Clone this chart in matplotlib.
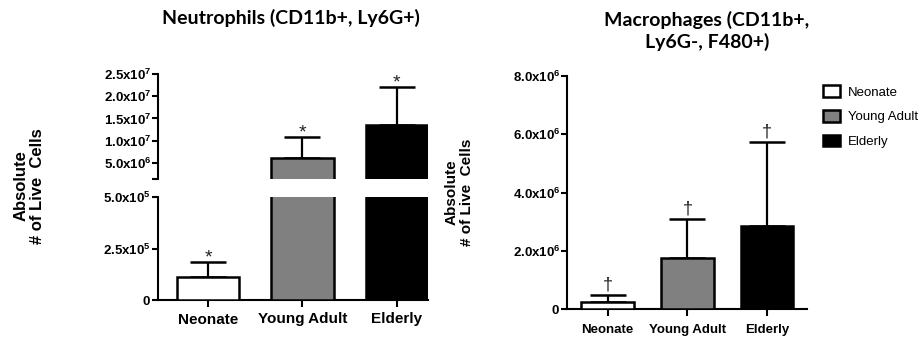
import matplotlib
matplotlib.use("Agg")
import matplotlib.pyplot as plt
import matplotlib.patches as mpatches

# ── Data ──────────────────────────────────────────────────────────────────────
groups = ['Neonate', 'Young Adult', 'Elderly']
bar_colors = ['white', '#808080', 'black']

neut_mean = [1.12e5, 6.1e6, 1.35e7]
neut_err = [7.2e4, 4.7e6, 8.6e6]

mac_mean = [2.4e5, 1.75e6, 2.85e6]
mac_err = [2.4e5, 1.34e6, 2.88e6]

neut_low_ticks = [0, 2.5e5, 5.0e5]
neut_low_labels = ['0', '2.5x10^{5}', '5.0x10^{5}']
neut_up_ticks = [5.0e6, 1.0e7, 1.5e7, 2.0e7, 2.5e7]
neut_up_labels = ['5.0x10^{6}', '1.0x10^{7}', '1.5x10^{7}',
                  '2.0x10^{7}', '2.5x10^{7}']
mac_ticks = [0, 2e6, 4e6, 6e6, 8e6]
mac_labels = ['0', '2.0x10^{6}', '4.0x10^{6}', '6.0x10^{6}', '8.0x10^{6}']

plt.rcParams.update({
    'font.family': ['Liberation Sans', 'DejaVu Sans'],
    'mathtext.fontset': 'custom',
    'mathtext.rm': 'Liberation Sans:bold',
    'mathtext.bf': 'Liberation Sans:bold',
    'mathtext.it': 'Liberation Sans:bold',
    'axes.linewidth': 1.5,
})

W, H = 923, 341
fig = plt.figure(figsize=(W / 100, H / 100), dpi=100)
fig.patch.set_facecolor('white')


def px_axes(l, t, r, b):
    return fig.add_axes([l / W, 1 - b / H, (r - l) / W, (b - t) / H])


def sci(labels):
    return ['$\\mathbf{%s}$' % s for s in labels]


def draw_bars(ax, means, errs, mark, off, size):
    x = list(range(len(means)))
    ax.bar(x, means, width=0.66, color=bar_colors, edgecolor='black',
           linewidth=1.8, zorder=3)
    ax.errorbar(x, means, yerr=[[0] * len(errs), errs], fmt='none',
                ecolor='black', elinewidth=1.6, capsize=13, capthick=1.8,
                zorder=2)
    for xi, m, e in zip(x, means, errs):
        ax.annotate(mark, xy=(xi, m + e), xytext=(0, off),
                    textcoords='offset points', ha='center', va='bottom',
                    fontsize=size, color='#222222')


def style(ax):
    for s in ['top', 'right']:
        ax.spines[s].set_visible(False)
    ax.tick_params(axis='y', length=4, width=1.5, labelsize=9.5, pad=1)
    ax.tick_params(axis='x', length=5, width=1.5)


# ── Left panel: neutrophils, broken y axis ───────────────────────────────────
ax_up = px_axes(158, 74, 428, 179)
ax_lo = px_axes(158, 197, 428, 300)

for ax in (ax_up, ax_lo):
    draw_bars(ax, neut_mean, neut_err, '*', -3, 14)
    ax.set_xlim(-0.53, 2.33)

ax_up.set_ylim(1.4e6, 2.5e7)
ax_up.set_yticks([1.4e6] + neut_up_ticks)
ax_up.set_yticklabels([''] + sci(neut_up_labels))
ax_up.spines['bottom'].set_visible(False)
ax_up.set_xticks([])
style(ax_up)

ax_lo.set_ylim(0, 5e5)
ax_lo.set_yticks(neut_low_ticks)
ax_lo.set_yticklabels(sci(neut_low_labels))
ax_lo.set_xticks(range(len(groups)))
ax_lo.set_xticklabels(groups, fontsize=11, fontweight='bold')
style(ax_lo)
ax_lo.tick_params(axis='x', pad=4)

fig.text(291 / W, 1 - 18 / H, 'Neutrophils (CD11b+, Ly6G+)',
         family='Lato', fontweight='bold', fontsize=14,
         ha='center', va='center')
fig.text(29 / W, 1 - 186 / H, 'Absolute\n# of Live  Cells', rotation=90,
         fontweight='bold', fontsize=12, ha='center', va='center',
         linespacing=1.15)

# ── Right panel: macrophages ─────────────────────────────────────────────────
ax_m = px_axes(567, 76, 807, 309)
draw_bars(ax_m, mac_mean, mac_err, '†', 1, 13)
ax_m.set_xlim(-0.51, 2.5)
ax_m.set_ylim(0, 8e6)
ax_m.set_yticks(mac_ticks)
ax_m.set_yticklabels(sci(mac_labels))
ax_m.set_xticks(range(len(groups)))
ax_m.set_xticklabels(groups, fontsize=9.5, fontweight='bold')
style(ax_m)
ax_m.tick_params(axis='x', pad=6)

fig.text(707 / W, 1 - 31 / H, 'Macrophages (CD11b+,\nLy6G-, F480+)',
         family='Lato', fontweight='bold', fontsize=14,
         ha='center', va='center', linespacing=1.25)
fig.text(459 / W, 1 - 192 / H, 'Absolute\n# of Live  Cells', rotation=90,
         fontweight='bold', fontsize=11, ha='center', va='center',
         linespacing=1.15)

handles = [mpatches.Patch(facecolor=c, edgecolor='black', linewidth=1.8,
                          label=g) for g, c in zip(groups, bar_colors)]
fig.legend(handles=handles, loc='upper left',
           bbox_to_anchor=(818 / W, 1 - 80 / H), frameon=False,
           fontsize=9.5, handlelength=1.3, handleheight=1.0,
           handletextpad=0.6, labelspacing=0.85, borderaxespad=0)

fig.savefig('out.png', dpi=100, facecolor='white')
